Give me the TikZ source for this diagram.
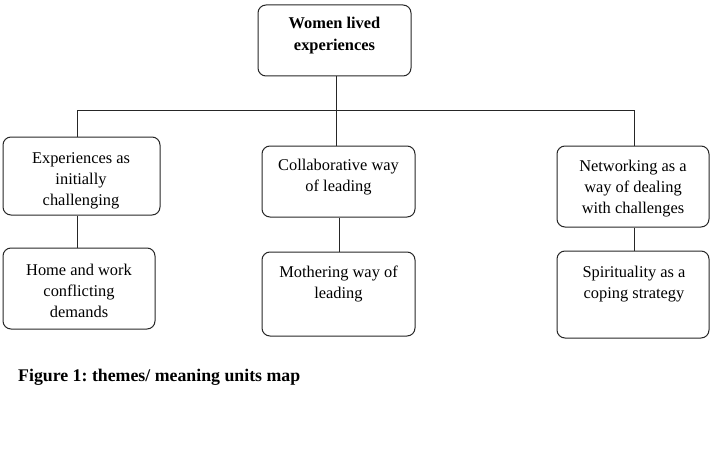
\documentclass[tikz,border=0pt]{standalone}
\usepackage{fontspec}
\setmainfont{Liberation Serif}
\frenchspacing
\begin{document}
\begin{tikzpicture}[x=1pt,y=1pt,
  box/.style={draw=black!85, line width=1pt, rounded corners=8pt, inner sep=0pt},
  txt/.style={align=center, font=\fontsize{16.4}{21}\selectfont, inner sep=0pt},
  conn/.style={draw=black!85, line width=0.9pt}]
\useasboundingbox (0,0) rectangle (710,-452);
% boxes
\node[box, minimum width=153, minimum height=71] (top) at (334.5,-40.5) {};
\node[box, minimum width=157, minimum height=78] (b1) at (81.5,-176) {};
\node[box, minimum width=153, minimum height=71] (b2) at (338.5,-181.5) {};
\node[box, minimum width=152, minimum height=81] (b3) at (633,-186.5) {};
\node[box, minimum width=152, minimum height=81] (c1) at (79,-288.5) {};
\node[box, minimum width=153, minimum height=84] (c2) at (338.5,-294) {};
\node[box, minimum width=152, minimum height=87] (c3) at (633,-294.5) {};
% texts
\node[txt, font=\fontsize{16.4}{22}\selectfont\bfseries] (t0) at (334.5,-36) {Women lived\\experiences};
\node[txt] (t1) at (81,-180.5) {Experiences as\\initially\\challenging};
\node[txt] (t2) at (338.5,-177) {Collaborative way\\of leading};
\node[txt] (t3) at (633,-188.5) {Networking as a\\way of dealing\\with challenges};
\node[txt] (t4) at (79,-291) {Home and work\\conflicting\\demands};
\node[txt] (t5) at (338.5,-284) {Mothering way of\\leading};
\node[txt] (t6) at (634,-284.5) {Spirituality as a\\coping strategy};
\node[anchor=west, inner sep=0pt, font=\fontsize{17.8}{21}\selectfont\bfseries] (cap) at (18,-377) {Figure 1: themes/ meaning units map};
% connectors
\coordinate (j) at ([xshift=1.5pt]top.south |- 0,-110);
\coordinate (l) at (77,-110);
\coordinate (r) at (634,-110);
\draw[conn] ([xshift=1.5pt]top.south) -- (j);
\draw[conn] (l) -- (r);
\draw[conn] (l) -- (l |- b1.north);
\draw[conn] (j) -- (j |- b2.north);
\draw[conn] (r) -- (r |- b3.north);
\draw[conn] (b1.south -| l) -- (l |- c1.north);
\draw[conn] ([xshift=0.5pt]b2.south) -- ([xshift=0.5pt]c2.north);
\draw[conn] (b3.south -| r) -- (r |- c3.north);
\end{tikzpicture}
\end{document}
